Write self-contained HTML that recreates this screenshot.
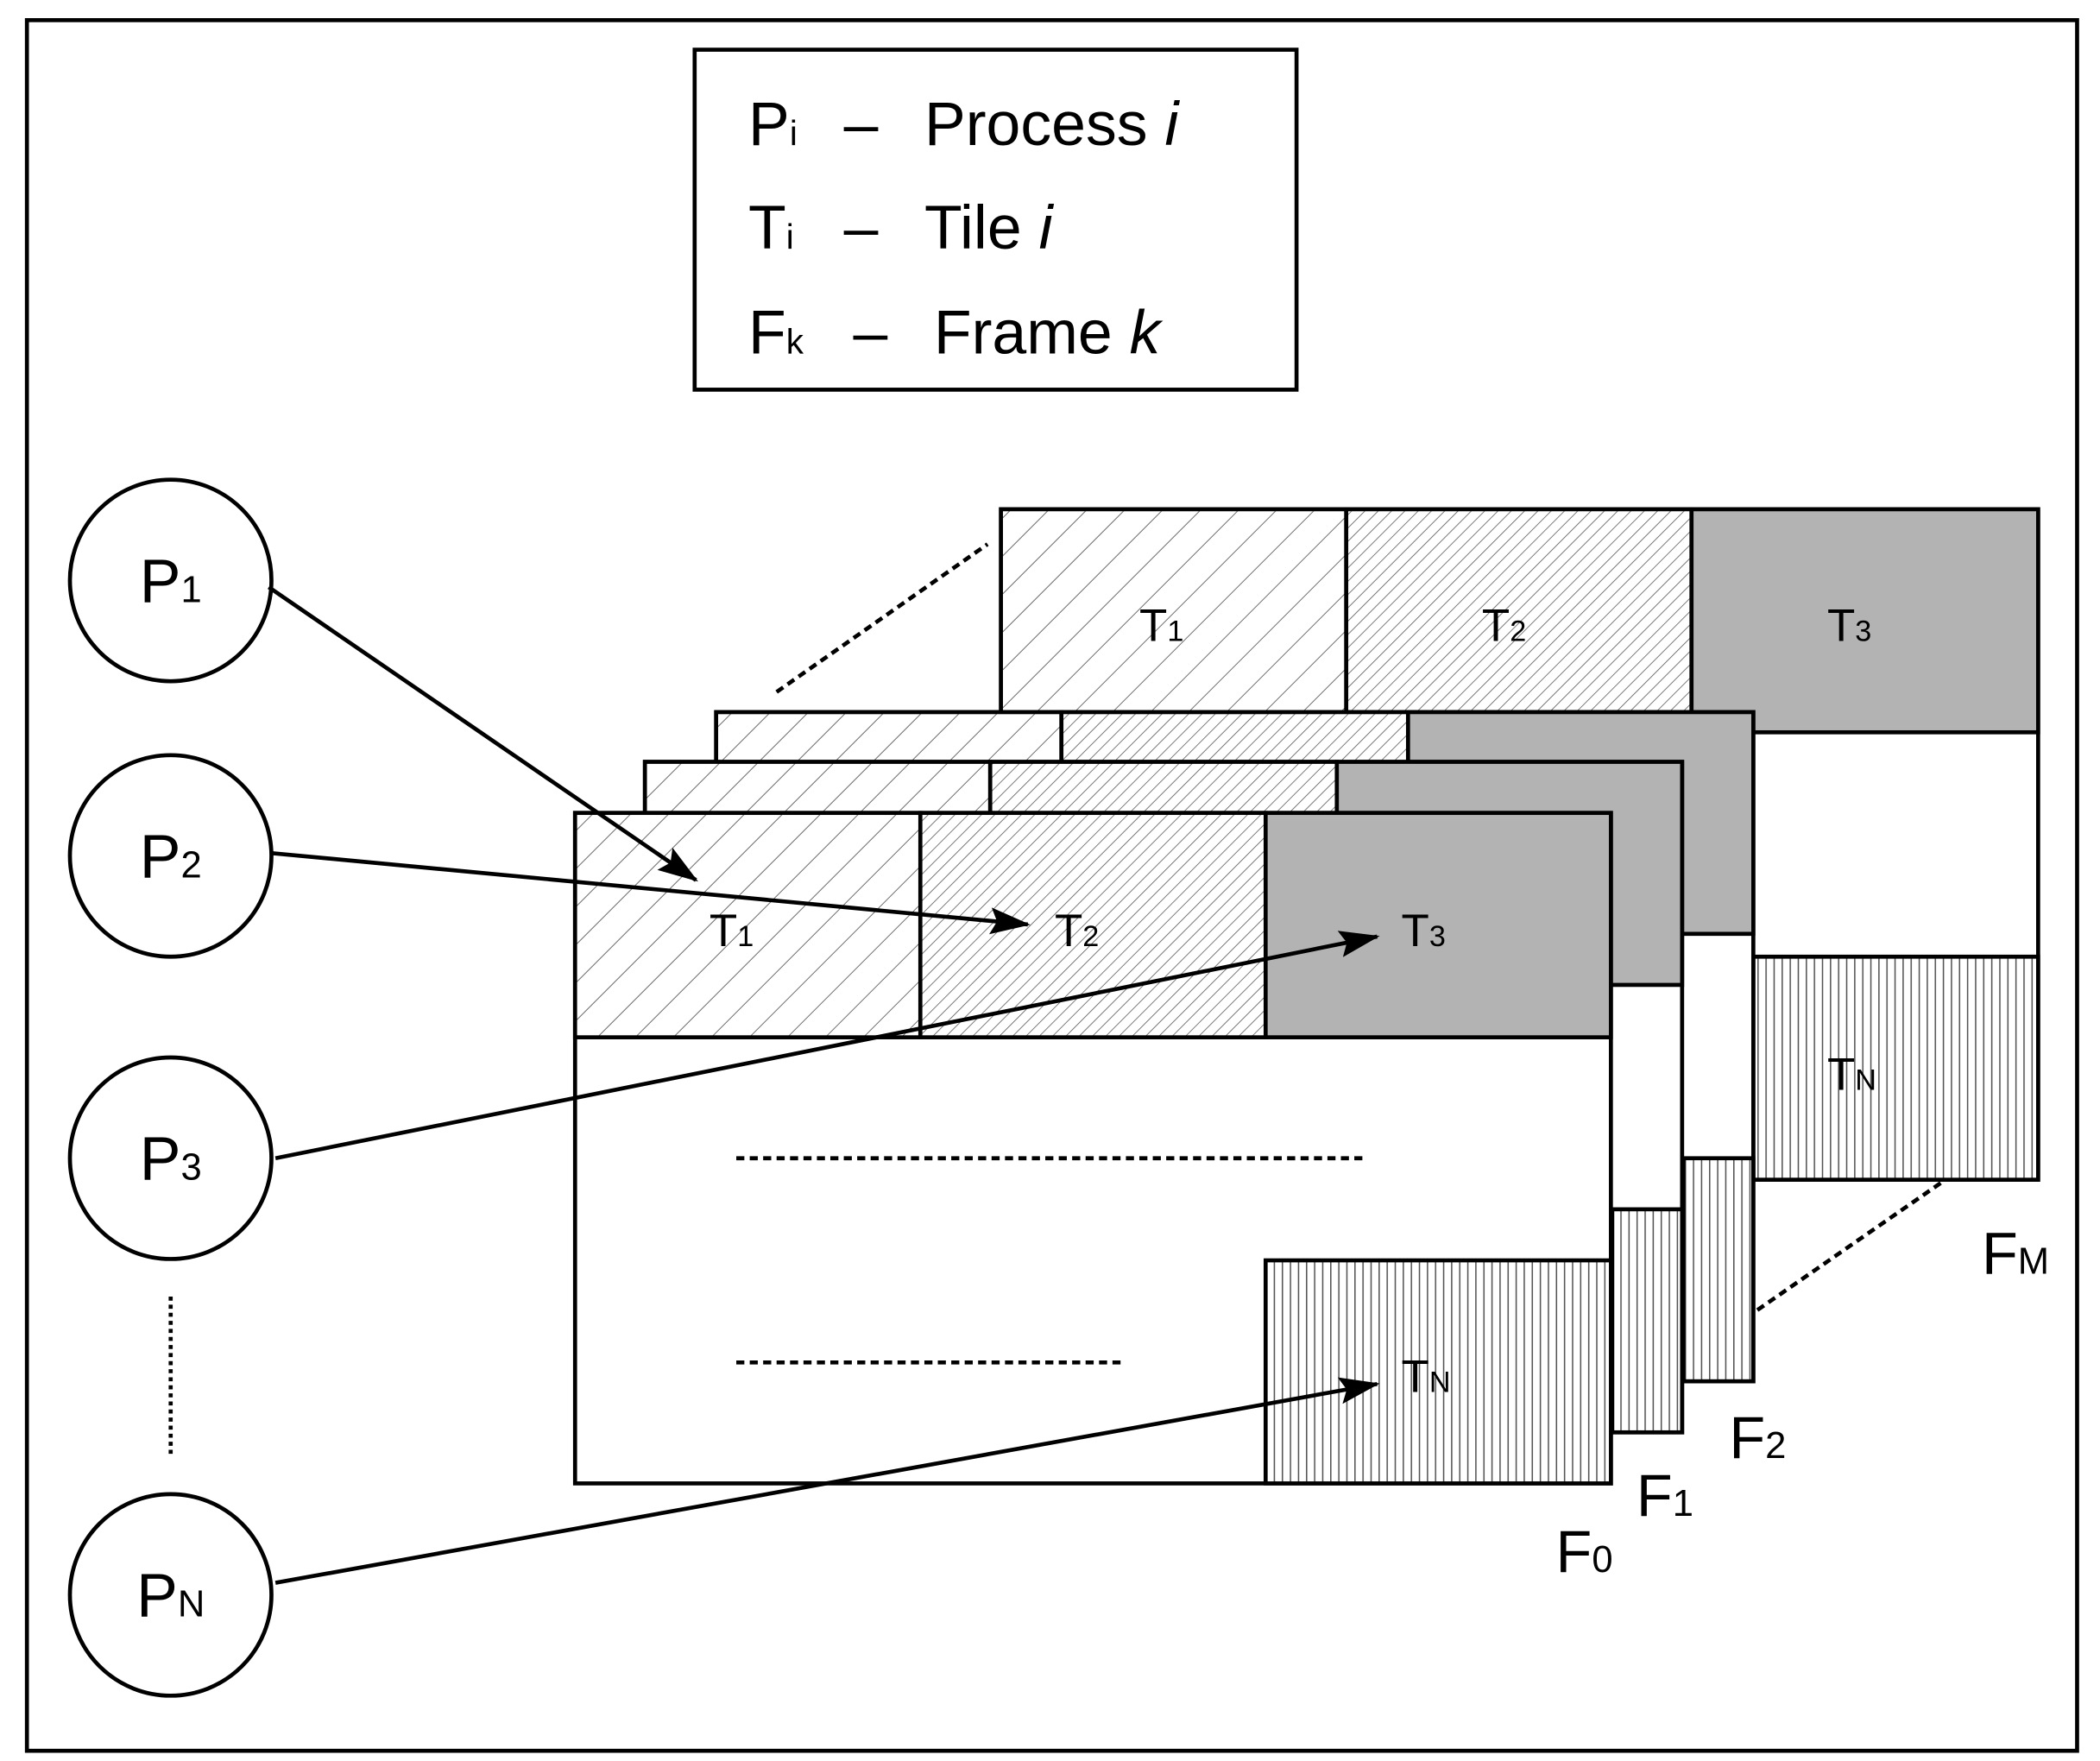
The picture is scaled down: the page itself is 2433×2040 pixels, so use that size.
<!DOCTYPE html>
<html><head><style>html,body{margin:0;padding:0;background:#fff}svg{display:block}</style></head><body>
<svg xmlns="http://www.w3.org/2000/svg" width="2433" height="2040" viewBox="0 0 1563 1310.6" font-family="Liberation Sans, Arial, sans-serif">
<defs>
<pattern id="sp" patternUnits="userSpaceOnUse" width="20" height="20" patternTransform="rotate(45)"><rect width="20" height="20" fill="#fff"/><line x1="0" y1="0" x2="0" y2="20" stroke="#444" stroke-width="1"/></pattern>
<pattern id="dn" patternUnits="userSpaceOnUse" width="7" height="7" patternTransform="rotate(45)"><rect width="7" height="7" fill="#fff"/><line x1="0" y1="0" x2="0" y2="7" stroke="#555" stroke-width="1"/></pattern>
<pattern id="vt" patternUnits="userSpaceOnUse" width="6" height="6"><rect width="6" height="6" fill="#fff"/><line x1="0.5" y1="0" x2="0.5" y2="6" stroke="#555" stroke-width="1"/></pattern>
<marker id="ah2" markerWidth="30" markerHeight="20" refX="28" refY="10" orient="auto" markerUnits="userSpaceOnUse"><path d="M0,0 L30,10 L0,20 L5,10 z" fill="#000"/></marker>
</defs>
<rect width="1563" height="1310.6" fill="#fff"/>
<rect x="20" y="15" width="1526" height="1288" fill="none" stroke="#000" stroke-width="3"/>
<rect x="517" y="37" width="448" height="253" fill="none" stroke="#000" stroke-width="3"/>
<g font-size="46">
<text x="557" y="108">P<tspan font-size="26">i</tspan></text><text x="628" y="108">–</text><text x="688" y="108">Process <tspan font-style="italic">i</tspan></text>
<text x="557" y="185">T<tspan font-size="26">i</tspan></text><text x="628" y="185">–</text><text x="688" y="185">Tile <tspan font-style="italic">i</tspan></text>
<text x="557" y="263">F<tspan font-size="26">k</tspan></text><text x="635" y="263">–</text><text x="695" y="263">Frame <tspan font-style="italic">k</tspan></text>
</g>
<g stroke="#000" stroke-width="3" stroke-dasharray="6,4" fill="none">
<line x1="578" y1="515" x2="735" y2="405"/>
<line x1="1308" y1="975" x2="1448" y2="878"/>
<line x1="1305" y1="637" x2="1337" y2="637"/>
</g>
<g stroke="#000" stroke-width="3">
<rect x="745" y="379" width="772" height="499" fill="#fff"/>
<rect x="745" y="379" width="257" height="166" fill="url(#sp)"/>
<rect x="1002" y="379" width="257" height="166" fill="url(#dn)"/>
<rect x="1259" y="379" width="258" height="166" fill="#b3b3b3"/>
<rect x="1305" y="712" width="212" height="166" fill="url(#vt)"/>
</g>
<g stroke="#000" stroke-width="3">
<rect x="533" y="530" width="772" height="498" fill="#fff"/>
<rect x="533" y="530" width="257" height="165" fill="url(#sp)"/>
<rect x="790" y="530" width="258" height="165" fill="url(#dn)"/>
<rect x="1048" y="530" width="257" height="165" fill="#b3b3b3"/>
<rect x="1253" y="862" width="52" height="166" fill="url(#vt)"/>
</g>
<g stroke="#000" stroke-width="3">
<rect x="480" y="567" width="772" height="499" fill="#fff"/>
<rect x="480" y="567" width="257" height="166" fill="url(#sp)"/>
<rect x="737" y="567" width="258" height="166" fill="url(#dn)"/>
<rect x="995" y="567" width="257" height="166" fill="#b3b3b3"/>
<rect x="1200" y="900" width="52" height="166" fill="url(#vt)"/>
</g>
<g stroke="#000" stroke-width="3">
<rect x="428" y="605" width="771" height="499" fill="#fff"/>
<rect x="428" y="605" width="257" height="167" fill="url(#sp)"/>
<rect x="685" y="605" width="257" height="167" fill="url(#dn)"/>
<rect x="942" y="605" width="257" height="167" fill="#b3b3b3"/>
<rect x="942" y="938" width="257" height="166" fill="url(#vt)"/>
</g>
<g stroke="#000" stroke-width="3" stroke-dasharray="6,4">
<line x1="548" y1="862" x2="1018" y2="862"/>
<line x1="548" y1="1014" x2="836" y2="1014"/>
</g>
<g font-size="34">
<text x="848" y="477">T<tspan font-size="22">1</tspan></text>
<text x="1103" y="477">T<tspan font-size="22">2</tspan></text>
<text x="1360" y="477">T<tspan font-size="22">3</tspan></text>
<text x="1360" y="811">T<tspan font-size="22">N</tspan></text>
<text x="528" y="704">T<tspan font-size="22">1</tspan></text>
<text x="785" y="704">T<tspan font-size="22">2</tspan></text>
<text x="1043" y="704">T<tspan font-size="22">3</tspan></text>
<text x="1043" y="1036">T<tspan font-size="22">N</tspan></text>
</g>
<g font-size="44">
<text x="1158" y="1170">F<tspan font-size="28">0</tspan></text>
<text x="1218" y="1128">F<tspan font-size="28">1</tspan></text>
<text x="1287" y="1085">F<tspan font-size="28">2</tspan></text>
<text x="1475" y="948">F<tspan font-size="28">M</tspan></text>
</g>
<g stroke="#000" stroke-width="3" fill="#fff">
<circle cx="127" cy="432" r="75"/>
<circle cx="127" cy="637" r="75"/>
<circle cx="127" cy="862" r="75"/>
<circle cx="127" cy="1187" r="75"/>
</g>
<line x1="127" y1="965" x2="127" y2="1085" stroke="#000" stroke-width="3" stroke-dasharray="3,3"/>
<g font-size="46" text-anchor="middle">
<text x="127" y="448">P<tspan font-size="28">1</tspan></text>
<text x="127" y="653">P<tspan font-size="28">2</tspan></text>
<text x="127" y="878">P<tspan font-size="28">3</tspan></text>
<text x="127" y="1203">P<tspan font-size="28">N</tspan></text>
</g>
<g stroke="#000" stroke-width="3" fill="none">
<line x1="200" y1="437" x2="518" y2="655" marker-end="url(#ah2)"/>
<line x1="203" y1="635" x2="765" y2="688" marker-end="url(#ah2)"/>
<line x1="205" y1="862" x2="1025" y2="697" marker-end="url(#ah2)"/>
<line x1="205" y1="1178" x2="1025" y2="1030" marker-end="url(#ah2)"/>
</g>
</svg>
</body></html>
